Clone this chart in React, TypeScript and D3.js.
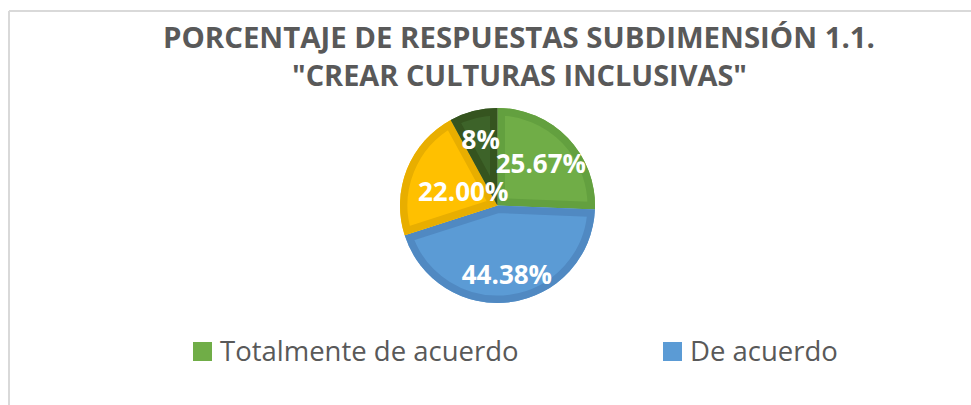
import React from "react";
import * as d3 from "d3";

// chart values
const categories = ["Totalmente de acuerdo", "De acuerdo", "Parcialmente de acuerdo", "En desacuerdo"];
const values = [25.67, 44.38, 22.0, 7.95];
const valueLabels = ["25.67%", "44.38%", "22.00%", "8%"];
const titleLines = ["PORCENTAJE DE RESPUESTAS SUBDIMENSIÓN 1.1.", "\"CREAR CULTURAS INCLUSIVAS\""];
const legendShown = ["Totalmente de acuerdo", "De acuerdo"];

const fills = ["#70ad47", "#5b9bd5", "#ffc000", "#3d6329"];
const edges = ["#63a03f", "#5089c2", "#e8ae00", "#35541f"];

const layout = {
    width: 971,
    height: 405,
    cx: 497.5,
    cy: 205.5,
    radius: 97.5,
    // distance from centre where each slice's label sits (best-fit in the original)
    labelRadius: [60, 70, 37, 68],
    legendX: [193, 663],
    legendY: 342,
    swatch: 19
};

const App = () => {
    const pie = d3.pie<number>().sort(null).value(d => d);
    const arcs = pie(values);
    const arc = d3.arc<d3.PieArcDatum<number>>().innerRadius(0).outerRadius(layout.radius);

    const slices = arcs.map((a, i) => {
        const d = arc(a) || "";
        const id = "clip" + i;
        return (
            <g key={i}>
                <clipPath id={id}>
                    <path d={d} />
                </clipPath>
                <path d={d} fill={fills[i]} />
                <path d={d} fill="none" stroke={edges[i]} strokeWidth={15} clipPath={`url(#${id})`} />
            </g>
        );
    });

    const labels = arcs.map((a, i) => {
        const mid = (a.startAngle + a.endAngle) / 2;
        const r = layout.labelRadius[i];
        return (
            <text
                key={i}
                x={Math.sin(mid) * r}
                y={-Math.cos(mid) * r}
                dy="0.36em"
                textAnchor="middle"
                fill="#ffffff"
                fontFamily="'Open Sans', sans-serif"
                fontWeight={700}
                fontSize={26}
            >
                {valueLabels[i]}
            </text>
        );
    });

    const legend = legendShown.map((name, i) => {
        const idx = categories.indexOf(name);
        return (
            <g key={name} transform={`translate(${layout.legendX[i]},${layout.legendY})`}>
                <rect width={layout.swatch} height={layout.swatch} fill={fills[idx]} />
                <text
                    x={layout.swatch + 8}
                    y={layout.swatch}
                    fill="#595959"
                    fontFamily="'Open Sans', sans-serif"
                    fontSize={27.5}
                >
                    {name}
                </text>
            </g>
        );
    });

    return (
        <svg
            width={layout.width}
            height={layout.height}
            style={{ position: "absolute", left: 0, top: 0 }}
        >
            <rect width={layout.width} height={layout.height} fill="#ffffff" />
            <line x1={9} x2={layout.width} y1={11} y2={11} stroke="#d9d9d9" strokeWidth={2} />
            <line x1={9} x2={9} y1={11} y2={layout.height} stroke="#d9d9d9" strokeWidth={2} />
            <g fill="#595959" fontFamily="'Open Sans', sans-serif" fontWeight={700} fontSize={28} textAnchor="middle">
                <text x={519} y={48} textLength={712} lengthAdjust="spacingAndGlyphs">{titleLines[0]}</text>
                <text x={519.5} y={86} textLength={455} lengthAdjust="spacingAndGlyphs">{titleLines[1]}</text>
            </g>
            <g transform={`translate(${layout.cx},${layout.cy})`}>
                {slices}
                {labels}
            </g>
            {legend}
        </svg>
    );
};

export default App;
